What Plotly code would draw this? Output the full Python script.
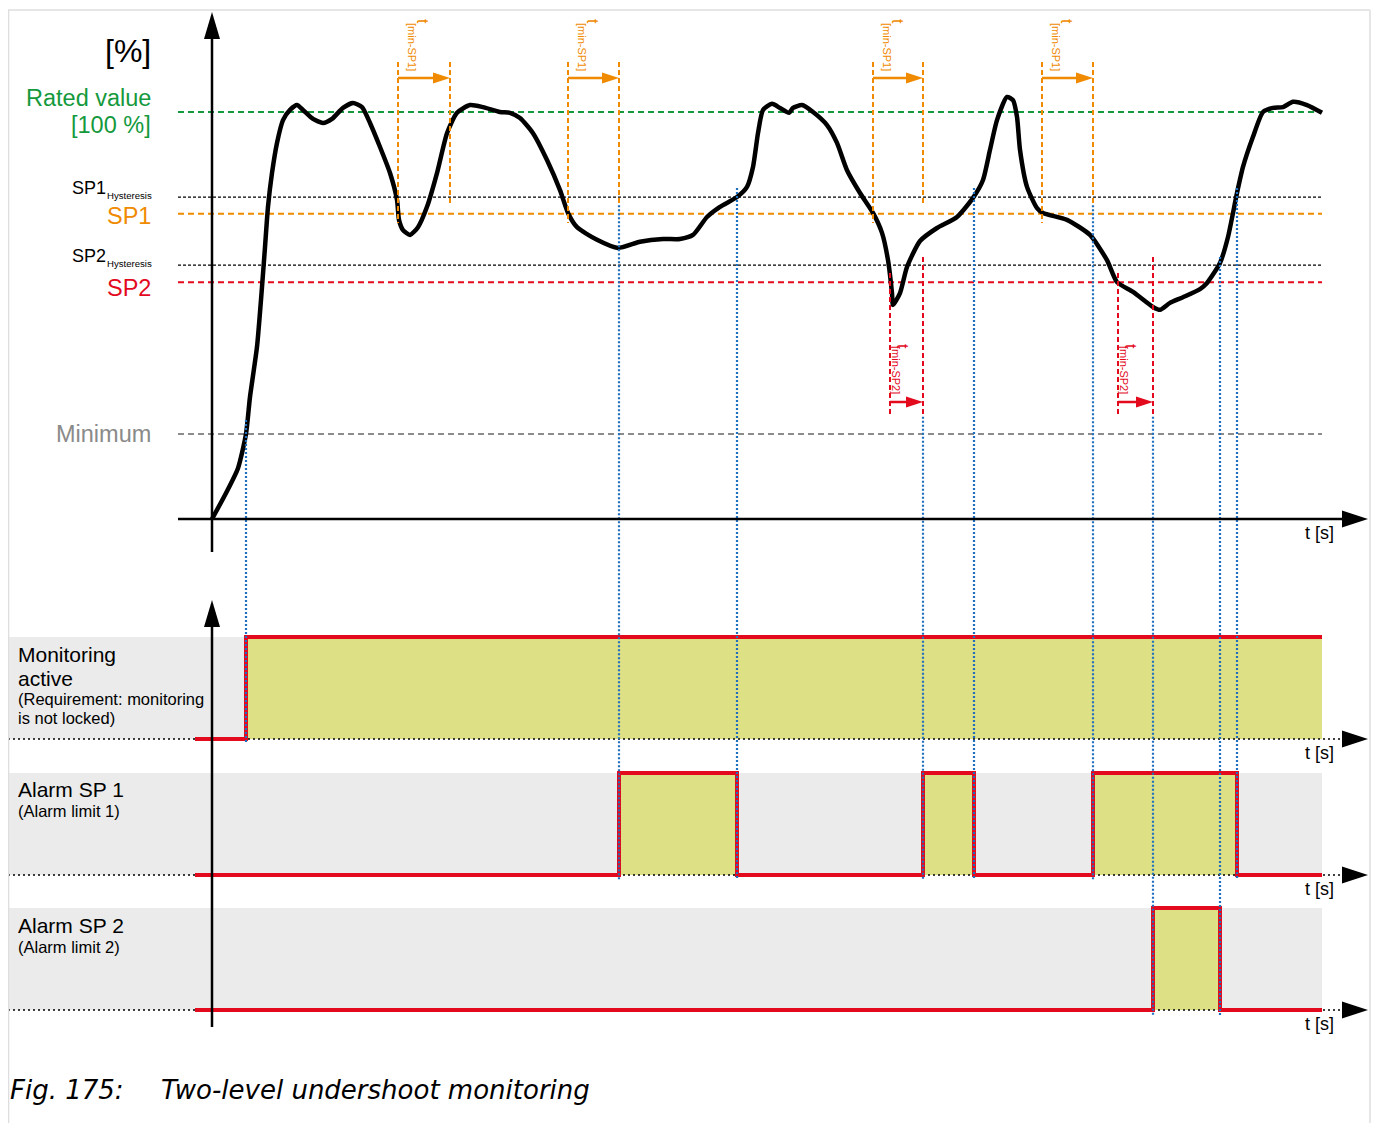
import plotly.graph_objects as go

# ---------------- data ----------------
# measured value over time (t in s, value in % of rated value)
curve_t = [0, 1.3, 2.6, 3.4, 3.8, 4.5, 5.0, 5.3, 5.6, 6.0, 6.5, 7.1, 7.8, 8.5, 9.1, 10.1,
           11.1, 12.0, 13.1, 14.1, 15.0, 15.8, 16.8, 17.8, 18.5, 18.7, 19.1, 19.8, 20.6,
           21.5, 22.5, 23.5, 24.5, 25.8, 27.1, 28.8, 29.8, 30.8, 32.1, 33.5, 34.8, 35.6,
           36.5, 38.5, 40.6, 42.8, 45.1, 46.8, 48.1, 49.5, 50.8, 52.5, 53.5, 54.1, 54.6,
           55.1, 56.0, 56.8, 57.7, 58.1, 59.0, 60.1, 61.5, 62.5, 63.5, 64.8, 66.1, 67.0,
           67.6, 68.0, 68.1, 68.8, 69.5, 70.8, 72.5, 74.5, 76.1, 77.1, 77.8, 78.5, 79.5,
           80.1, 80.5, 80.8, 81.5, 82.5, 83.1, 85.5, 87.8, 89.5, 90.5, 92.1, 94.1, 94.8,
           95.8, 97.1, 98.8, 99.5, 100.8, 101.6, 102.5, 103.1, 104.1, 105.1, 106.1, 107.1,
           108.1, 109.5, 111.0]
curve_pct = [0, 5.9, 12.5, 20.9, 30.0, 42.3, 57.0, 66.8, 76.7, 85.0, 92.4, 98.0, 100.5,
             101.7, 100.5, 98.3, 97.3, 98.3, 101.0, 102.2, 101.2, 97.3, 91.4, 85.0, 78.4,
             73.5, 71.0, 69.8, 71.7, 76.7, 85.0, 94.8, 99.8, 101.7, 101.2, 100.0, 99.8,
             98.5, 94.8, 88.2, 80.8, 75.2, 71.7, 68.6, 66.6, 68.1, 68.8, 68.8, 69.8, 74.2,
             76.7, 79.1, 81.6, 86.5, 94.8, 100.5, 102.0, 101.0, 99.8, 101.0, 101.7, 100.0,
             96.8, 92.4, 85.7, 80.1, 75.2, 70.3, 63.6, 55.5, 52.6, 55.5, 61.9, 68.3, 71.5,
             74.2, 78.9, 83.3, 90.7, 98.0, 103.7, 102.9, 98.8, 90.7, 81.6, 76.4, 75.2, 73.5,
             69.8, 63.6, 58.2, 55.8, 52.1, 51.4, 53.1, 54.5, 56.5, 58.0, 62.9, 69.3, 80.1,
             86.5, 93.9, 100.0, 101.0, 101.2, 102.5, 101.7, 99.8]

# threshold levels in %
level_names = ["rated", "sp1_hyst", "sp1", "sp2_hyst", "sp2", "minimum"]
level_pct = [100.0, 79.1, 75.0, 62.4, 58.2, 20.9]

# binary signals (time of each step, state after the step)
monitor_t = [-1.7, 3.4, 111.0]
monitor_state = [0, 1, 1]
alarm1_t = [-1.7, 40.7, 52.5, 71.1, 76.2, 88.1, 102.5, 111.0]
alarm1_state = [0, 1, 0, 1, 0, 1, 0, 0]
alarm2_t = [-1.7, 94.1, 100.8, 111.0]
alarm2_state = [0, 1, 0, 0]

# delay windows t[min-SP1] / t[min-SP2]
tmin_sp1_start = [18.6, 35.6, 66.1, 83.0]
tmin_sp1_end = [23.8, 40.7, 71.1, 88.1]
tmin_sp2_start = [67.8, 90.6]
tmin_sp2_end = [71.1, 94.1]

# switching events (blue guide lines): time, level where guide starts, lane it reaches
event_t = [3.4, 40.7, 52.5, 71.1, 76.2, 88.1, 94.1, 100.8, 102.5]
event_top_pct = [24.3, 77.1, 81.3, 25.1, 81.3, 77.1, 25.1, 64.4, 81.3]
event_lane = [0, 1, 1, 1, 1, 1, 2, 2, 1]

lane_titles = ["Monitoring", "Alarm SP 1", "Alarm SP 2"]

# ---------------- geometry / style ----------------
W, H = 1371, 1115          # figure size
OFF = 8                    # page offset of the figure (browser body margin)
ORIGIN_X, ORIGIN_Y = 212, 519
PX_PER_T = 10.0
PX_PER_PCT = 4.07
LANE_LOW = [739, 875, 1010]
LANE_H = 102
PAD = 0.2

FONT = "Liberation Sans, Arial, sans-serif"
GREEN = "#14993c"
ORANGE = "#f08a00"
RED = "#e30a1e"
GREYTXT = "#8a8a8a"
BLUE = "#1f6fc0"
YELLOW = "#dde084"
BAND = "#ebebeb"


def t_(px):
    return (px - ORIGIN_X) / PX_PER_T


def v_(py):
    return (ORIGIN_Y - py) / PX_PER_PCT


def lane_v(lane, state):
    return v_(LANE_LOW[lane] - state * LANE_H)


def paper_y(py):
    return 1 - (py - OFF) / H


fig = go.Figure()
shapes = []
ann = []

# threshold lines
level_style = {
    "rated": (GREEN, "6px,4px", 2),
    "sp1_hyst": ("black", "3px,2px", 1.3),
    "sp1": (ORANGE, "6px,4px", 2),
    "sp2_hyst": ("black", "3px,2px", 1.3),
    "sp2": (RED, "6px,4px", 2),
    "minimum": ("#8c8c8c", "6px,4px", 2),
}
for name, lv in zip(level_names, level_pct):
    c, d, w = level_style[name]
    fig.add_trace(go.Scatter(x=[t_(178), t_(1322)], y=[lv, lv], mode="lines",
                             line=dict(color=c, dash=d, width=w), hoverinfo="skip"))

# measured curve
fig.add_trace(go.Scatter(x=curve_t, y=curve_pct, mode="lines",
                         line=dict(color="black", width=4.5, shape="spline", smoothing=0.6),
                         hoverinfo="skip"))


# delay windows
def window(starts, ends, color, s_top, s_bot, e_top, e_bot, arrow_v, sub,
           t_v, t_dx, sub_v, sub_dx):
    for s, e in zip(starts, ends):
        fig.add_trace(go.Scatter(x=[s, s], y=[s_top, s_bot], mode="lines",
                                 line=dict(color=color, dash="5px,3px", width=2), hoverinfo="skip"))
        fig.add_trace(go.Scatter(x=[e, e], y=[e_top, e_bot], mode="lines",
                                 line=dict(color=color, dash="5px,3px", width=2), hoverinfo="skip"))
        fig.add_trace(go.Scatter(x=[s, e - 1.0], y=[arrow_v, arrow_v], mode="lines",
                                 line=dict(color=color, width=2.5), hoverinfo="skip"))
        shapes.append(dict(type="path", xref="x", yref="y", xsizemode="pixel", ysizemode="pixel",
                           xanchor=e, yanchor=arrow_v, path="M0,0 L-17,5.5 L-17,-5.5 Z",
                           fillcolor=color, line=dict(width=0)))
        ann.append(dict(x=s + t_dx, y=t_v, xref="x", yref="y", text="t", showarrow=False,
                        textangle=90, xanchor="center", yanchor="middle",
                        font=dict(family=FONT, size=16, color=color)))
        ann.append(dict(x=s + sub_dx, y=sub_v, xref="x", yref="y", text=sub, showarrow=False,
                        textangle=90, xanchor="center", yanchor="middle",
                        font=dict(family=FONT, size=11, color=color)))


window(tmin_sp1_start, tmin_sp1_end, ORANGE, v_(62), v_(223), v_(62), v_(205), v_(78),
       "[min-SP1]", v_(21), 2.5, v_(47), 1.4)
window(tmin_sp2_start, tmin_sp2_end, RED, v_(273), v_(417), v_(257), v_(417), v_(402),
       "[min-SP2]", v_(346), 1.3, v_(370), 0.6)

# lanes
lane_axes = ["y2", "y3", "y4"]
signals = [(monitor_t, monitor_state), (alarm1_t, alarm1_state), (alarm2_t, alarm2_state)]
for i, (ax, (tt, ss)) in enumerate(zip(lane_axes, signals)):
    shapes.append(dict(type="rect", xref="x", yref=ax, x0=t_(8), x1=tt[-1], y0=0, y1=1,
                       fillcolor=BAND, line=dict(width=0), layer="below"))
    fig.add_trace(go.Scatter(x=tt, y=ss, yaxis=ax, mode="lines", fill="tozeroy",
                             fillcolor=YELLOW, line=dict(width=0, shape="hv"), hoverinfo="skip"))
    fig.add_trace(go.Scatter(x=[t_(8), t_(1345)], y=[0, 0], yaxis=ax, mode="lines",
                             line=dict(color="black", dash="2px,3px", width=1.5), hoverinfo="skip"))
    fig.add_trace(go.Scatter(x=tt, y=ss, yaxis=ax, mode="lines",
                             line=dict(color=RED, width=4, shape="hv"), hoverinfo="skip"))
    shapes.append(dict(type="path", xref="x", yref=ax, xsizemode="pixel", ysizemode="pixel",
                       xanchor=t_(1368), yanchor=0, path="M0,0 L-26,8.5 L-26,-8.5 Z",
                       fillcolor="black", line=dict(width=0)))
    ann.append(dict(x=t_(1336), y=lane_v(i, -0.14), xref="x", yref="y", text="t [s]",
                    showarrow=False, xanchor="right", yanchor="middle",
                    font=dict(family=FONT, size=18, color="black")))

# blue event guide lines
for et, top, ln in zip(event_t, event_top_pct, event_lane):
    shapes.append(dict(type="line", xref="x", yref="y", x0=et, x1=et, y0=top,
                       y1=lane_v(ln, -0.05), line=dict(color=BLUE, width=2.2, dash="2px,2px")))

# axes of the top chart
shapes += [
    dict(type="line", xref="x", yref="y", x0=0, x1=0, y0=v_(552), y1=v_(30),
         line=dict(color="black", width=2.5)),
    dict(type="path", xref="x", yref="y", xsizemode="pixel", ysizemode="pixel", xanchor=0,
         yanchor=v_(12), path="M0,0 L-8,-27 L8,-27 Z", fillcolor="black", line=dict(width=0)),
    dict(type="line", xref="x", yref="y", x0=t_(178), x1=t_(1350), y0=0, y1=0,
         line=dict(color="black", width=2.5)),
    dict(type="path", xref="x", yref="y", xsizemode="pixel", ysizemode="pixel",
         xanchor=t_(1368), yanchor=0, path="M0,0 L-26,8.5 L-26,-8.5 Z",
         fillcolor="black", line=dict(width=0)),
    # axis of the lanes
    dict(type="line", xref="x", yref="y", x0=0, x1=0, y0=v_(1027), y1=v_(615),
         line=dict(color="black", width=2.5)),
    dict(type="path", xref="x", yref="y", xsizemode="pixel", ysizemode="pixel", xanchor=0,
         yanchor=v_(600), path="M0,0 L-8,-27 L8,-27 Z", fillcolor="black", line=dict(width=0)),
    # page frame
    dict(type="line", xref="paper", yref="paper", x0=0.0004, x1=0.0004, y0=0, y1=paper_y(10),
         line=dict(color="#dedede", width=1.5)),
    dict(type="line", xref="paper", yref="paper", x0=0, x1=(1370 - OFF) / W, y0=paper_y(10),
         y1=paper_y(10), line=dict(color="#dedede", width=1.5)),
    dict(type="line", xref="paper", yref="paper", x0=(1370 - OFF) / W, x1=(1370 - OFF) / W,
         y0=0, y1=paper_y(10), line=dict(color="#dedede", width=1.5)),
]
ann.append(dict(x=t_(1336), y=v_(533), xref="x", yref="y", text="t [s]", showarrow=False,
                xanchor="right", yanchor="middle", font=dict(family=FONT, size=18, color="black")))


# left labels of the top chart
def lab(text, px, py, size, color, anchor="right"):
    ann.append(dict(x=t_(px), y=v_(py), xref="x", yref="y", text=text, showarrow=False,
                    xanchor=anchor, yanchor="middle",
                    font=dict(family=FONT, size=size, color=color)))


lab("[%]", 153, 51, 32, "black")
lab("Rated value", 153, 98, 23.5, GREEN)
lab("[100 %]", 153, 125, 23.5, GREEN)
lab("SP1", 108, 188, 18, "black")
lab("Hysteresis", 154, 195, 9.6, "black")
lab("SP1", 153, 216, 23.5, ORANGE)
lab("SP2", 108, 256, 18, "black")
lab("Hysteresis", 154, 263, 9.6, "black")
lab("SP2", 153, 288, 23.5, RED)
lab("Minimum", 153, 434, 23.5, GREYTXT)

# lane labels
lane_lines = [
    [(lane_titles[0], 0.833, 21), ("active", 0.598, 21),
     ("(Requirement: monitoring", 0.392, 16.5), ("is not locked)", 0.206, 16.5)],
    [(lane_titles[1], 0.843, 21), ("(Alarm limit 1)", 0.627, 16.5)],
    [(lane_titles[2], 0.833, 21), ("(Alarm limit 2)", 0.618, 16.5)],
]
for ax, lines in zip(lane_axes, lane_lines):
    for text, s, size in lines:
        ann.append(dict(x=t_(16), y=s, xref="x", yref=ax, text=text, showarrow=False,
                        xanchor="left", yanchor="middle",
                        font=dict(family=FONT, size=size, color="black")))

# caption
for text, px in [("Fig. 175:", 8), ("Two-level undershoot monitoring", 159)]:
    ann.append(dict(x=t_(px), y=v_(1090), xref="x", yref="y", text=text, showarrow=False,
                    xanchor="left", yanchor="middle",
                    font=dict(family="DejaVu Sans", size=26, color="black", style="italic")))

# ---------------- layout ----------------
layout_axes = dict(
    xaxis=dict(domain=[0, 1], range=[t_(OFF), t_(OFF + W)], visible=False, fixedrange=True),
    yaxis=dict(domain=[0, 1], range=[v_(OFF + H), v_(OFF)], visible=False, fixedrange=True),
)
for i, ax in enumerate(lane_axes):
    low = LANE_LOW[i]
    layout_axes["yaxis" + ax[1:]] = dict(
        domain=[paper_y(low + PAD * LANE_H), paper_y(low - LANE_H - PAD * LANE_H)],
        range=[-PAD, 1 + PAD], visible=False, anchor="x", fixedrange=True)

fig.update_layout(
    width=W, height=H, autosize=False,
    margin=dict(l=0, r=0, t=0, b=0, pad=0),
    paper_bgcolor="white", plot_bgcolor="rgba(0,0,0,0)",
    showlegend=False, shapes=shapes, annotations=ann,
    **layout_axes,
)

fig.write_html("out.html")
